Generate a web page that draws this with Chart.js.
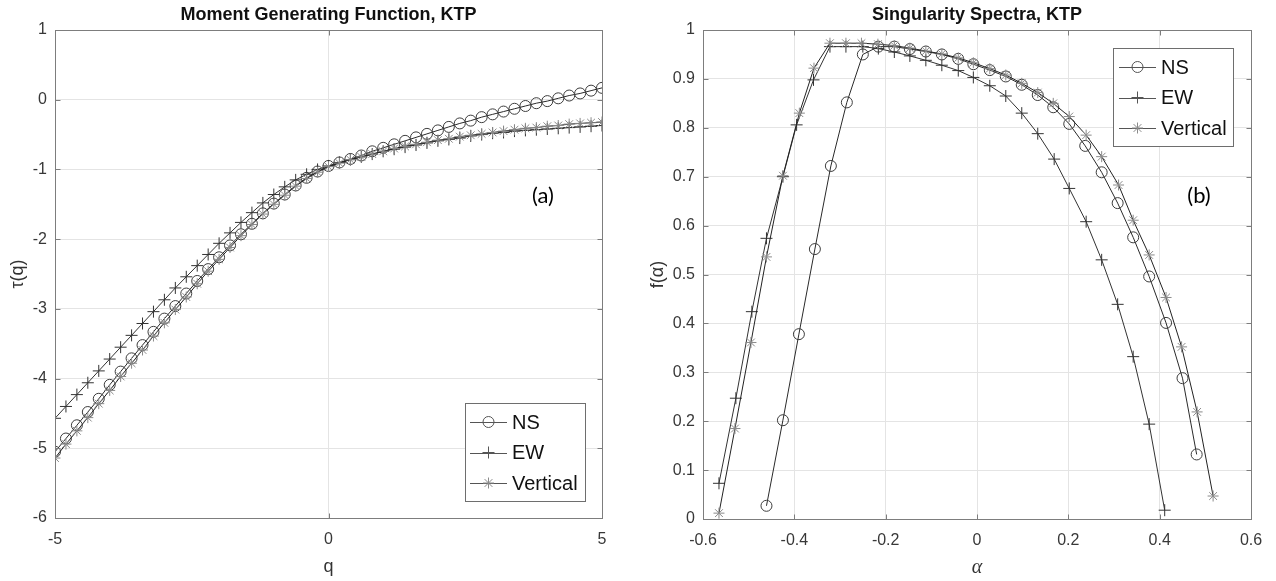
<!DOCTYPE html>
<html><head><meta charset="utf-8">
<script src="https://cdn.jsdelivr.net/npm/chart.js@4.4.1/dist/chart.umd.min.js"></script>
<style>
html,body{margin:0;padding:0;background:#fff;width:1276px;height:581px;overflow:hidden}
#c1{position:absolute;left:0;top:0}
#c2{position:absolute;left:638px;top:0}
</style></head><body>
<canvas id="c1" width="638" height="581"></canvas>
<canvas id="c2" width="638" height="581"></canvas>
<script>
// ---------- data: panel (a) ----------
const qValues = [-5,-4.8,-4.6,-4.4,-4.2,-4,-3.8,-3.6,-3.4,-3.2,-3,-2.8,-2.6,-2.4,-2.2,-2,-1.8,-1.6,-1.4,-1.2,-1,-0.8,-0.6,-0.4,-0.2,
  0,0.2,0.4,0.6,0.8,1,1.2,1.4,1.6,1.8,2,2.2,2.4,2.6,2.8,3,3.2,3.4,3.6,3.8,4,4.2,4.4,4.6,4.8,5];
const tauNS = [-5.05,-4.86,-4.67,-4.48,-4.29,-4.09,-3.90,-3.71,-3.52,-3.33,-3.14,-2.96,-2.78,-2.60,-2.43,-2.26,-2.09,-1.93,-1.78,-1.63,-1.49,-1.36,-1.23,-1.12,-1.03,
  -0.95,-0.90,-0.85,-0.80,-0.74,-0.69,-0.64,-0.59,-0.54,-0.49,-0.44,-0.39,-0.34,-0.30,-0.25,-0.21,-0.17,-0.13,-0.09,-0.05,-0.02,0.02,0.06,0.09,0.13,0.17];
const tauEW = [-4.57,-4.40,-4.23,-4.06,-3.89,-3.72,-3.55,-3.38,-3.21,-3.04,-2.87,-2.70,-2.54,-2.38,-2.22,-2.06,-1.91,-1.76,-1.62,-1.48,-1.36,-1.25,-1.15,-1.07,-1.00,
  -0.95,-0.90,-0.86,-0.82,-0.78,-0.74,-0.71,-0.68,-0.65,-0.62,-0.59,-0.57,-0.55,-0.52,-0.50,-0.48,-0.47,-0.45,-0.44,-0.43,-0.42,-0.41,-0.40,-0.39,-0.38,-0.37];
const tauVert = [-5.14,-4.94,-4.75,-4.56,-4.36,-4.17,-3.97,-3.78,-3.59,-3.39,-3.20,-3.01,-2.83,-2.64,-2.46,-2.29,-2.12,-1.95,-1.79,-1.64,-1.50,-1.37,-1.24,-1.13,-1.04,
  -0.96,-0.91,-0.86,-0.82,-0.78,-0.74,-0.70,-0.67,-0.64,-0.61,-0.58,-0.56,-0.53,-0.51,-0.49,-0.47,-0.45,-0.43,-0.41,-0.40,-0.38,-0.37,-0.35,-0.34,-0.33,-0.32];
const qTicks = [-5,0,5];
const tauTicks = [1,0,-1,-2,-3,-4,-5,-6];

// ---------- data: panel (b) ----------
const alphaNS = [-0.461,-0.425,-0.390,-0.355,-0.320,-0.285,-0.250,-0.216,-0.181,-0.147,-0.112,-0.077,-0.041,-0.008,0.028,0.063,0.098,0.133,0.167,0.202,0.237,0.273,0.308,0.342,0.377,0.414,0.450,0.481];
const fNS = [0.027,0.202,0.378,0.552,0.722,0.852,0.950,0.966,0.966,0.961,0.956,0.950,0.941,0.930,0.918,0.905,0.888,0.867,0.842,0.808,0.763,0.709,0.646,0.576,0.496,0.401,0.288,0.132];
const alphaEW = [-0.565,-0.528,-0.493,-0.461,-0.425,-0.395,-0.358,-0.322,-0.287,-0.250,-0.216,-0.181,-0.147,-0.112,-0.077,-0.041,-0.008,0.028,0.063,0.098,0.133,0.169,0.202,0.239,0.273,0.308,0.342,0.377,0.411];
const fEW = [0.073,0.247,0.424,0.574,0.700,0.806,0.898,0.966,0.966,0.966,0.962,0.955,0.947,0.938,0.928,0.917,0.903,0.886,0.865,0.830,0.788,0.736,0.676,0.608,0.530,0.439,0.332,0.194,0.018];
const alphaVert = [-0.565,-0.530,-0.495,-0.461,-0.425,-0.389,-0.357,-0.322,-0.287,-0.253,-0.217,-0.181,-0.147,-0.112,-0.077,-0.041,-0.008,0.028,0.063,0.098,0.133,0.167,0.202,0.239,0.273,0.310,0.342,0.377,0.414,0.448,0.482,0.517];
const fVert = [0.012,0.185,0.361,0.536,0.702,0.830,0.922,0.973,0.973,0.973,0.971,0.968,0.963,0.957,0.951,0.943,0.933,0.921,0.908,0.891,0.872,0.850,0.823,0.785,0.741,0.683,0.611,0.540,0.453,0.352,0.219,0.047];
const alphaTicks = [-0.6,-0.4,-0.2,0,0.2,0.4,0.6];
const fTicks = [0,0.1,0.2,0.3,0.4,0.5,0.6,0.7,0.8,0.9,1];

const seriesNames = ['NS','EW','Vertical'];

// ---------- styling ----------
const SANS = "'Liberation Sans', Arial, Helvetica, sans-serif";
const tickFont = {family: SANS, size: 16};
const tickColor = '#383838';
const gridColor = '#e4e4e4';
const frameColor = '#7d7d7d';
const styleNS = {pointStyle:'circle', pointRadius:5.5, color:'#3c3c3c', line:'#2a2a2a'};
const styleEW = {pointStyle:'cross', pointRadius:6, color:'#333333', line:'#333333'};
const styleV = {pointStyle:'star', pointRadius:5.5, color:'#8a8a8a', line:'#222222'};

function pts(xs, ys){ return xs.map((v,i)=>({x:v, y:ys[i]})); }
function ds(label, data, st, order){
  return {label, data, showLine:true, borderColor:st.line, borderWidth:1,
    pointStyle:st.pointStyle, pointRadius:st.pointRadius, pointBorderColor:st.color,
    pointBackgroundColor:'rgba(0,0,0,0)', pointBorderWidth:1, order,
    pointHoverRadius:st.pointRadius};
}

function drawMarker(ctx, style, x, y, r, color){
  ctx.save();
  ctx.strokeStyle = color; ctx.lineWidth = 1;
  ctx.beginPath();
  if (style === 'circle') { ctx.arc(x, y, r, 0, Math.PI*2); }
  else {
    ctx.moveTo(x-r, y); ctx.lineTo(x+r, y);
    ctx.moveTo(x, y-r); ctx.lineTo(x, y+r);
    if (style === 'star') {
      const d = r*Math.SQRT1_2;
      ctx.moveTo(x-d, y-d); ctx.lineTo(x+d, y+d);
      ctx.moveTo(x-d, y+d); ctx.lineTo(x+d, y-d);
    }
  }
  ctx.stroke();
  ctx.restore();
}

const framePlugin = {
  id: 'frame',
  afterDraw(chart, args, opts){
    const {ctx, chartArea:a, scales} = chart;
    const L = Math.round(a.left)+0.5, R = Math.round(a.right)+0.5, T = Math.round(a.top)+0.5, B = Math.round(a.bottom)+0.5;
    ctx.save();
    ctx.strokeStyle = frameColor; ctx.lineWidth = 1;
    ctx.beginPath();
    scales.x.ticks.forEach(t => {
      const px = Math.round(scales.x.getPixelForValue(t.value))+0.5;
      ctx.moveTo(px, B); ctx.lineTo(px, B-5);
      ctx.moveTo(px, T); ctx.lineTo(px, T+5);
    });
    scales.y.ticks.forEach(t => {
      const py = Math.round(scales.y.getPixelForValue(t.value))+0.5;
      ctx.moveTo(L, py); ctx.lineTo(L+5, py);
      ctx.moveTo(R, py); ctx.lineTo(R-5, py);
    });
    ctx.stroke();
    ctx.strokeRect(L, T, R-L, B-T);
    // legend
    const lg = opts.legend;
    if (lg) {
      ctx.fillStyle = '#fff';
      ctx.fillRect(lg.x, lg.y, lg.w, lg.h);
      ctx.strokeStyle = '#6e6e6e';
      ctx.strokeRect(lg.x+0.5, lg.y+0.5, lg.w, lg.h);
      ctx.font = lg.fontSize + 'px ' + SANS;
      ctx.textBaseline = 'middle';
      ctx.textAlign = 'left';
      chart.data.datasets.forEach((d, i) => {
        const yy = lg.y + lg.rowTop + i*lg.rowGap;
        ctx.strokeStyle = '#555';
        ctx.beginPath();
        ctx.moveTo(lg.x + lg.lineFrom, Math.round(yy)+0.5);
        ctx.lineTo(lg.x + lg.lineTo, Math.round(yy)+0.5);
        ctx.stroke();
        drawMarker(ctx, d.pointStyle, lg.x + (lg.lineFrom+lg.lineTo)/2, yy, d.pointRadius, d.pointBorderColor === '#8a8a8a' ? '#8a8a8a' : '#555');
        ctx.fillStyle = '#111';
        ctx.fillText(d.label, lg.x + lg.textX, yy+1);
      });
    }
    const p = opts.panel;
    if (p) {
      ctx.fillStyle = '#000';
      ctx.font = p.size + "px Lato, 'Open Sans', sans-serif";
      ctx.textAlign = 'center';
      ctx.textBaseline = 'alphabetic';
      ctx.fillText(p.text, p.x, p.y);
    }
    ctx.restore();
  }
};

function commonScale(min, max, tickVals, fmt, widthOrHeight, isY, title, titleFont, titlePad){
  return {
    type:'linear', min, max,
    afterBuildTicks(s){ s.ticks = tickVals.map(v => ({value:v})); },
    ticks:{font:tickFont, color:tickColor, padding: isY ? 8 : 12, callback: fmt, autoSkip:false, maxRotation:0},
    grid:{color:gridColor, drawTicks:false, lineWidth:1},
    border:{display:false},
    title:{display:true, text:title, font:titleFont, color:'#333', padding:titlePad},
    afterFit(s){ if (isY) s.width = widthOrHeight; else s.height = widthOrHeight; }
  };
}

const fmtInt = v => String(v);
const fmt1 = v => { const r = Math.round(v*10)/10; return r === 0 ? '0' : String(r); };

new Chart(document.getElementById('c1'), {
  type:'scatter',
  data:{datasets:[
    ds(seriesNames[0], pts(qValues, tauNS), styleNS, 2),
    ds(seriesNames[1], pts(qValues, tauEW), styleEW, 1),
    ds(seriesNames[2], pts(qValues, tauVert), styleV, 0)
  ]},
  options:{
    responsive:false, animation:false, devicePixelRatio:1,
    layout:{padding:{left:0, right:36, top:0, bottom:0}},
    plugins:{
      legend:{display:false}, tooltip:{enabled:false},
      title:{display:true, fullSize:false, text:'Moment Generating Function, KTP', color:'#111',
        font:{family:SANS, size:18, weight:'bold'}, padding:{top:4, bottom:4.4}},
      frame:{
        legend:{x:465, y:403, w:120, h:98, rowTop:19, rowGap:30.5, lineFrom:5, lineTo:42, textX:47, fontSize:20},
        panel:{text:'(a)', x:543, y:203, size:22}
      }
    },
    scales:{
      x: commonScale(-5, 5, qTicks, fmtInt, 63, false, 'q', {family:SANS, size:18}, {top:0, bottom:3}),
      y: commonScale(-6, 1, tauTicks, fmtInt, 55, true, 'τ(q)', {family:SANS, size:18}, {top:7, bottom:0})
    }
  },
  plugins:[framePlugin]
});

new Chart(document.getElementById('c2'), {
  type:'scatter',
  data:{datasets:[
    ds(seriesNames[0], pts(alphaNS, fNS), styleNS, 2),
    ds(seriesNames[1], pts(alphaEW, fEW), styleEW, 1),
    ds(seriesNames[2], pts(alphaVert, fVert), styleV, 0)
  ]},
  options:{
    responsive:false, animation:false, devicePixelRatio:1,
    layout:{padding:{left:0, right:25, top:0, bottom:0}},
    plugins:{
      legend:{display:false}, tooltip:{enabled:false},
      title:{display:true, fullSize:false, text:'Singularity Spectra, KTP', color:'#111',
        font:{family:SANS, size:18, weight:'bold'}, padding:{top:4, bottom:4.4}},
      frame:{
        legend:{x:475, y:48, w:120, h:98, rowTop:19, rowGap:30.5, lineFrom:6, lineTo:43, textX:48, fontSize:20},
        panel:{text:'(b)', x:561, y:203, size:22}
      }
    },
    scales:{
      x: commonScale(-0.6, 0.6, alphaTicks, fmt1, 62, false, 'α', {family:"'Liberation Serif', 'DejaVu Serif', serif", size:20, style:'italic'}, {top:0, bottom:1}),
      y: commonScale(0, 1, fTicks, fmt1, 65, true, 'f(α)', {family:SANS, size:18}, {top:9, bottom:0})
    }
  },
  plugins:[framePlugin]
});
</script>
</body></html>
